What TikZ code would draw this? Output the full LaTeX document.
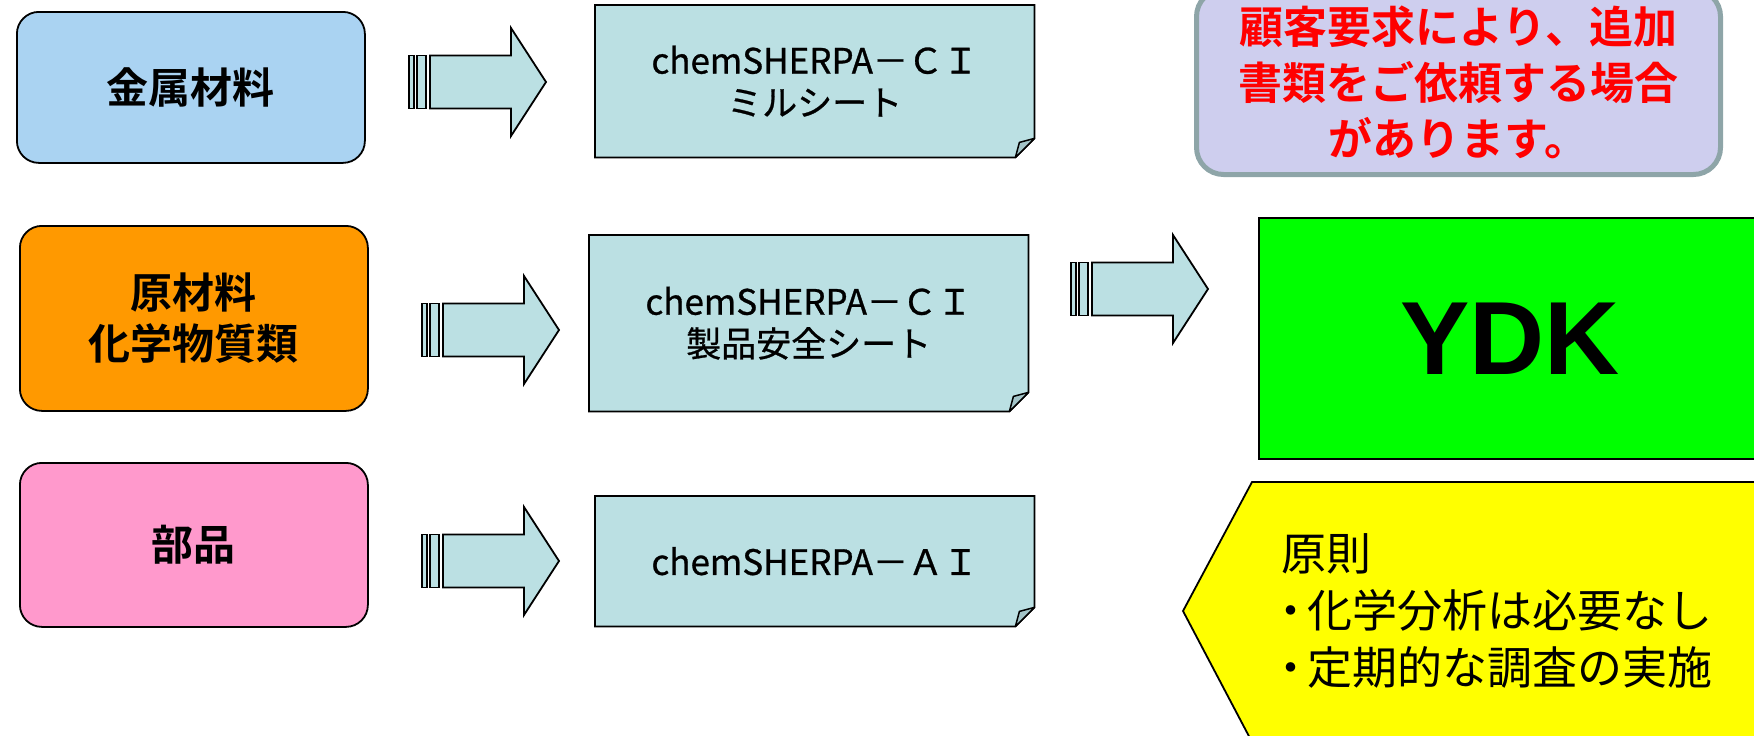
\documentclass[tikz,border=0pt]{standalone}
\usepackage{fontspec}
\setmainfont{Noto Sans CJK JP}[BoldFont={Noto Sans CJK JP Bold}]
\newfontfamily\docfont{Noto Sans CJK JP}[FakeBold=0.8]
\newfontfamily\ydkfont{Liberation Sans}
\definecolor{srcblue}{HTML}{AAD3F2}
\definecolor{srcorange}{HTML}{FF9900}
\definecolor{srcpink}{HTML}{FF99CC}
\definecolor{docfill}{HTML}{BBE0E3}
\definecolor{flapfill}{HTML}{A3C4C8}
\definecolor{notefill}{HTML}{CECEEE}
\definecolor{noteborder}{HTML}{8EA5A8}
\definecolor{ydkgreen}{HTML}{00FF00}
\definecolor{ruleyellow}{HTML}{FFFF00}
\usetikzlibrary{positioning,backgrounds}

\begin{document}
\begin{tikzpicture}[
  x=1pt, y=-1pt,
  src/.style={draw=black, line width=1.8pt, fill=#1, rounded corners=22pt,
    minimum width=348pt, inner sep=0pt, align=center,
    font=\fontsize{42}{51}\selectfont\bfseries},
  doc/.style={minimum width=439pt, inner sep=0pt, align=center,
    font=\docfont\fontsize{35}{42}\selectfont},
  docshape/.style={draw=black, line width=1.8pt, fill=docfill},
  flap/.style={draw=black, line width=1.5pt, fill=flapfill, line join=round},
  blk/.style={draw=black, line width=1.8pt, fill=docfill},
  note/.style={draw=noteborder, line width=5pt, fill=notefill, rounded corners=27pt,
    text=red, align=center, font=\fontsize{44}{56}\selectfont\bfseries},
]
  \clip (0,0) rectangle (1754,736);

  % Left column: sources
  \node[src=srcblue, minimum height=151pt, anchor=north west] (metal) at (16,11) {金属材料};
  \node[src=srcorange, minimum height=185pt, anchor=north west] (raw) at (19,225)
    {原材料\\化学物質類};
  \node[src=srcpink, minimum height=164pt, anchor=north west] (part) at (19,462) {部品};

  % Middle column: sheets
  \node[doc, minimum height=152pt, anchor=north west] (doc1) at (595,5)
    {chemSHERPA－ＣＩ\\ミルシート};
  \node[doc, minimum height=176pt, anchor=north west] (doc2) at (589,235)
    {chemSHERPA－ＣＩ\\製品安全シート};
  \node[doc, minimum height=130pt, anchor=north west] (doc3) at (595,496)
    {chemSHERPA－ＡＩ};

  \begin{scope}[on background layer]
    \foreach \d in {doc1,doc2,doc3}{
      \draw[docshape] (\d.north west) -- (\d.north east) -- ([yshift=19pt]\d.south east)
        -- ([xshift=-19pt]\d.south east) -- (\d.south west) -- cycle;
      \draw[flap] ([yshift=19pt]\d.south east) -- ([shift={(-15pt,15pt)}]\d.south east)
        -- ([xshift=-19pt]\d.south east) -- cycle;
    }
  \end{scope}

  % Striped arrows
  \coordinate (arr1) at (409,82);
  \coordinate (arr2) at (422,330);
  \coordinate (arr3) at (422,561);
  \coordinate (arr4) at (1071,289);
  \foreach \a in {arr1,arr2,arr3,arr4}{
    \begin{scope}[shift={(\a)}]
      \draw[blk, line width=1.3pt] (0,-26.5) rectangle (5,26.5);
      \draw[blk, line width=1.3pt] (8,-26.5) rectangle (17,26.5);
      \draw[blk] (21,-26.5) -- (102,-26.5) -- (102,-54) -- (137,0) -- (102,54)
        -- (102,26.5) -- (21,26.5) -- cycle;
    \end{scope}
  }

  % Right column
  \node[note, minimum width=524pt, minimum height=185pt] (req) at (1458.5,82)
    {顧客要求により、追加\\書類をご依頼する場合\\があります。};

  \node[draw=black, line width=1.8pt, fill=ydkgreen, minimum width=502pt, minimum height=241pt,
    anchor=north west, font=\ydkfont\bfseries\fontsize{104}{110}\selectfont] (ydk) at (1258,217) {YDK};

  \draw[draw=black, line width=1.8pt, fill=ruleyellow]
    (1252,482) -- (1762,482) -- (1762,742) -- (1252,742) -- (1183,611) -- cycle;
  \node[anchor=west, align=left, inner sep=0pt, font=\fontsize{45}{57}\selectfont] (rule) at (1281,611)
    {原則\\\kern-13pt・\kern-6pt化学分析は必要なし\\\kern-13pt・\kern-6pt定期的な調査の実施};
\end{tikzpicture}
\end{document}
